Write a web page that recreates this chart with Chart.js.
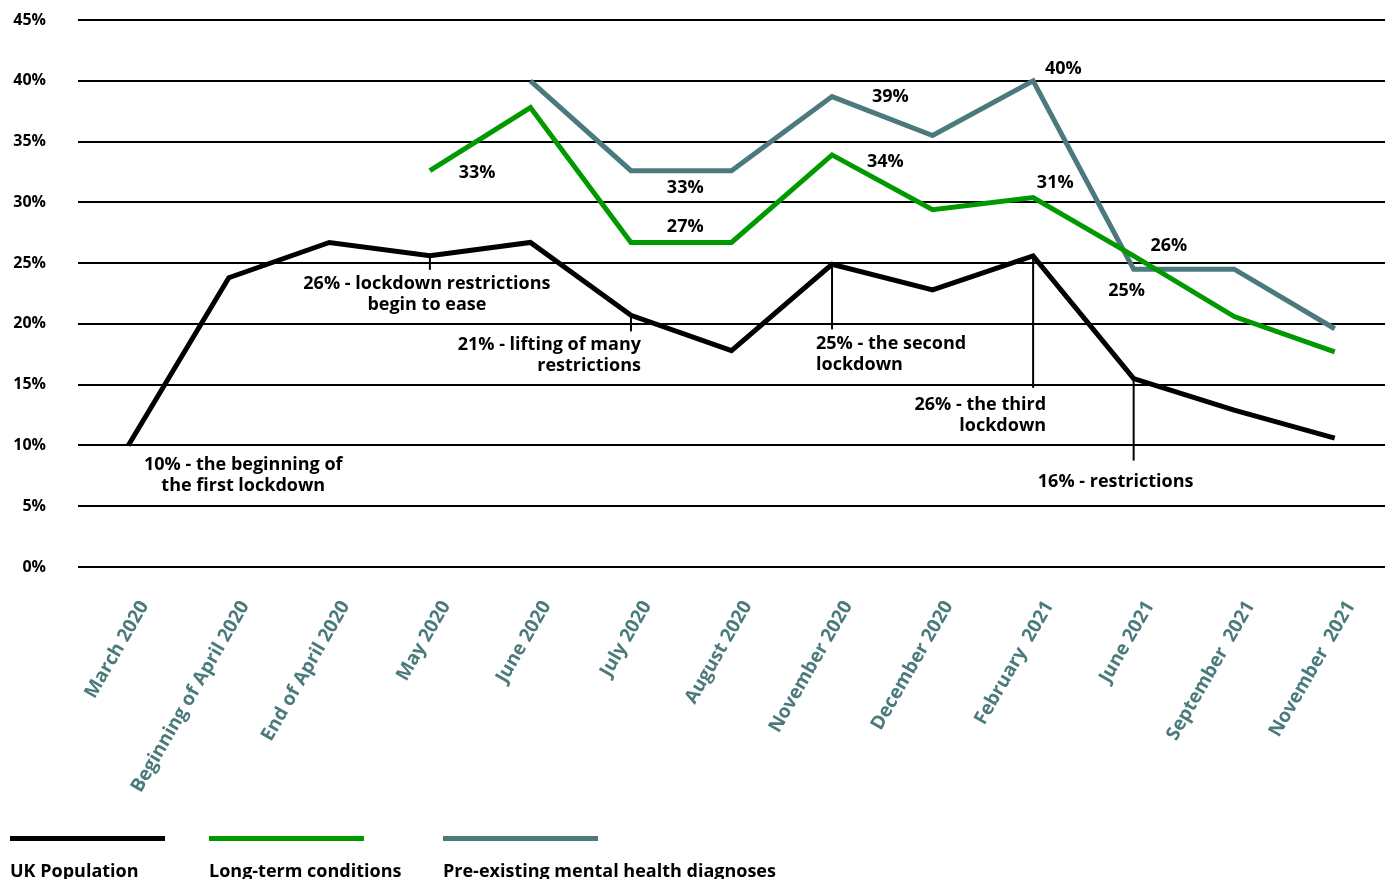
<!DOCTYPE html>
<html>
<head>
<meta charset="utf-8">
<script src="https://cdn.jsdelivr.net/npm/chart.js@4"></script>
<style>
    html, body { margin: 0; padding: 0; background: #fff; }
    #wrap { width: 1391px; height: 879px; position: relative; }
</style>
</head>
<body>
<div id="wrap"><canvas id="chart"></canvas></div>
<script>
const categories = ['March 2020', 'Beginning of April 2020', 'End of April 2020', 'May 2020', 'June 2020',
    'July 2020', 'August 2020', 'November 2020', 'December 2020', 'February  2021', 'June 2021',
    'September  2021', 'November  2021']

const ukPopulation = [10, 23.8, 26.7, 25.6, 26.7, 20.7, 17.8, 24.9, 22.8, 25.6, 15.5, 12.9, 10.6]
const longTermConditions = [null, null, null, 32.6, 37.8, 26.7, 26.7, 33.9, 29.4, 30.4, 25.6, 20.6, 17.7]
const mentalHealth = [null, null, null, null, 40, 32.6, 32.6, 38.7, 35.5, 40, 24.5, 24.5, 19.6]

const yTicks = [0, 5, 10, 15, 20, 25, 30, 35, 40, 45]

// callouts on the UK population line
const calloutText = [
    ['10% - the beginning of', 'the first lockdown'],
    ['26% - lockdown restrictions', 'begin to ease'],
    ['21% - lifting of many', 'restrictions'],
    ['25% - the second', 'lockdown'],
    ['26% - the third', 'lockdown'],
    ['16% - restrictions']
]
const calloutIndex = [0, 3, 5, 7, 9, 10]

// value labels: text, category position, value position
const valueLabels = ['33%', '33%', '27%', '39%', '34%', '40%', '31%', '26%', '25%']
const valueLabelX = [3.47, 5.54, 5.54, 7.58, 7.53, 9.3, 9.22, 10.35, 9.93]
const valueLabelY = [32.4, 31.2, 28.0, 38.65, 33.3, 41.0, 31.6, 26.4, 22.7]

const FONT = '"Open Sans", Lato, sans-serif'
const TEAL = '#4b7a7c'
const GREEN = '#009900'

// per-callout layout: tick length below point, text anchor offset, alignment
const calloutLayout = [
    {line: 0, dx: 115, dy: 19, align: 'center'},
    {line: 14, dx: -3, dy: 28, align: 'center'},
    {line: 16, dx: 10, dy: 29, align: 'right'},
    {line: 65, dx: -16, dy: 80, align: 'left'},
    {line: 132, dx: 13, dy: 149, align: 'right'},
    {line: 82, dx: -18, dy: 103, align: 'center'}
]

const annotationPlugin = {
    id: 'annotations',
    afterDatasetsDraw(chart) {
        const ctx = chart.ctx
        const x = chart.scales.x
        const y = chart.scales.y
        ctx.save()
        ctx.fillStyle = '#000'
        ctx.strokeStyle = '#000'
        ctx.lineWidth = 2
        ctx.font = `bold 18px ${FONT}`
        ctx.textBaseline = 'middle'
        calloutText.forEach((lines, i) => {
            const idx = calloutIndex[i]
            const px = x.getPixelForValue(idx)
            const py = y.getPixelForValue(ukPopulation[idx])
            const l = calloutLayout[i]
            if (l.line) {
                ctx.beginPath()
                ctx.moveTo(px, py)
                ctx.lineTo(px, py + l.line)
                ctx.stroke()
            }
            ctx.textAlign = l.align
            lines.forEach((t, j) => ctx.fillText(t, px + l.dx, py + l.dy + j * 21))
        })
        ctx.textAlign = 'center'
        valueLabels.forEach((t, i) => {
            ctx.fillText(t, x.getPixelForValue(valueLabelX[i]), y.getPixelForValue(valueLabelY[i]))
        })
        ctx.restore()
    },
    afterDraw(chart) {
        const ctx = chart.ctx
        ctx.save()
        const starts = [10, 209, 443]
        chart.data.datasets.forEach((ds, i) => {
            ctx.fillStyle = ds.borderColor
            ctx.fillRect(starts[i], 836, 155, 5)
            ctx.fillStyle = '#000'
            ctx.font = `bold 18px ${FONT}`
            ctx.textAlign = 'left'
            ctx.textBaseline = 'alphabetic'
            ctx.fillText(ds.label, starts[i], 877)
        })
        ctx.restore()
    }
}

const lineStyle = {
    borderWidth: 5,
    pointRadius: 0,
    tension: 0,
    borderJoinStyle: 'miter',
    spanGaps: false,
    fill: false
}

new Chart(document.getElementById('chart'), {
    type: 'line',
    data: {
        labels: categories,
        datasets: [
            {label: 'UK Population', data: ukPopulation, borderColor: '#000', ...lineStyle},
            {label: 'Long-term conditions', data: longTermConditions, borderColor: GREEN, ...lineStyle},
            {label: 'Pre-existing mental health diagnoses', data: mentalHealth, borderColor: TEAL, ...lineStyle}
        ]
    },
    options: {
        responsive: true,
        maintainAspectRatio: false,
        animation: false,
        layout: {padding: {top: 20, right: 6, left: 0, bottom: 0}},
        plugins: {
            legend: {display: false},
            tooltip: {enabled: false}
        },
        scales: {
            x: {
                offset: true,
                grid: {display: false, drawTicks: false},
                border: {display: false},
                afterFit: (scale) => {
                    scale.height = 312
                    scale.paddingLeft = 0
                    scale.paddingRight = 0
                },
                ticks: {
                    autoSkip: false,
                    maxRotation: 60,
                    minRotation: 60,
                    padding: 30,
                    labelOffset: 16,
                    color: TEAL,
                    font: {family: FONT, size: 19, weight: 'bold'}
                }
            },
            y: {
                min: 0,
                max: 45,
                afterFit: (scale) => {
                    scale.width = 78
                    scale.paddingTop = 0
                    scale.paddingBottom = 0
                },
                afterBuildTicks: (scale) => { scale.ticks = yTicks.map(v => ({value: v})) },
                grid: {color: '#000', lineWidth: 2, drawTicks: false},
                border: {display: false},
                ticks: {
                    padding: 32,
                    color: '#000',
                    callback: (v) => v + '%',
                    font: {family: FONT, size: 16, weight: 'bold'}
                }
            }
        }
    },
    plugins: [annotationPlugin]
})
</script>
</body>
</html>
